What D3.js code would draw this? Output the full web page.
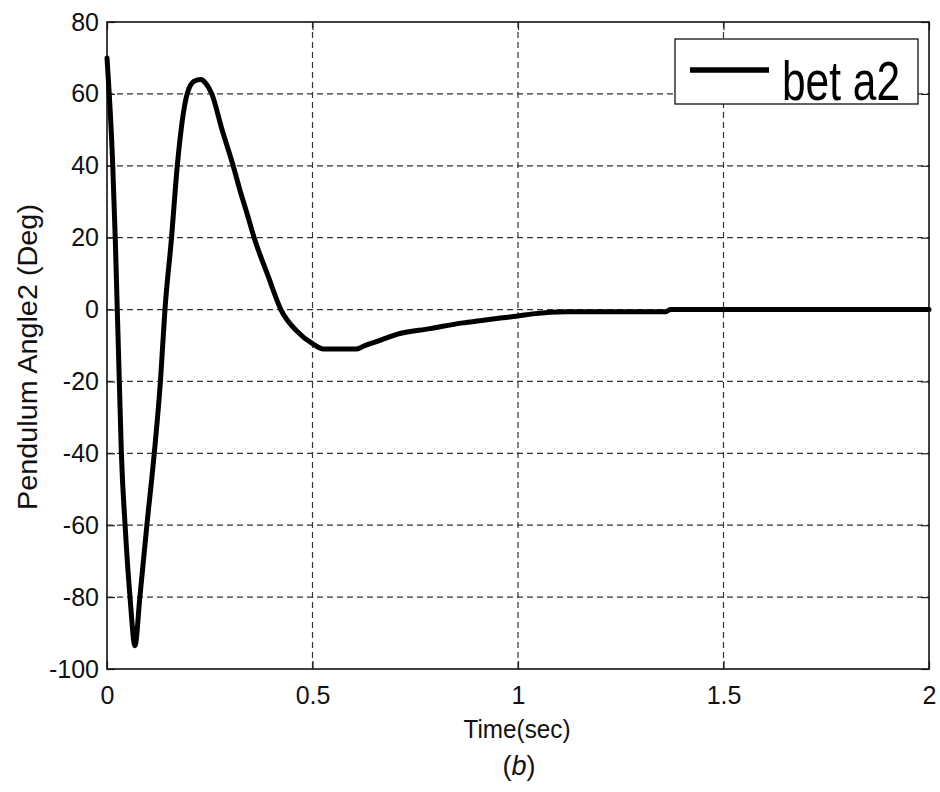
<!DOCTYPE html>
<html>
<head>
<meta charset="utf-8">
<script src="https://cdn.jsdelivr.net/npm/d3@7"></script>
<style>
  html, body { margin: 0; padding: 0; background: #fff; }
  svg { display: block; font-family: "Liberation Sans", Arial, sans-serif; }
</style>
</head>
<body>
<svg id="chart" width="940" height="792"></svg>
<script>
// Pendulum angle 2 response (deg) versus time (s)
const timeSec = [0, 0.014, 0.020, 0.025, 0.030, 0.035, 0.044, 0.056, 0.068,
  0.080, 0.097, 0.115, 0.130, 0.141, 0.157, 0.171, 0.195, 0.212, 0.228,
  0.240, 0.255, 0.280, 0.307, 0.324, 0.340, 0.358, 0.393, 0.423, 0.462,
  0.500, 0.527, 0.606, 0.624, 0.664, 0.705, 0.786, 0.866, 0.907, 0.948,
  1.000, 1.036, 1.120, 1.360, 1.370, 2.0];
const beta2 = [70, 40, 20, 0, -20, -40, -60, -80, -93.5,
  -80, -60, -40, -20, 0, 20, 40, 60, 63.5, 64,
  63, 60, 50, 40, 33, 27, 20, 9, 0, -6,
  -9.5, -11, -11, -10.2, -8.6, -6.9, -5.3, -3.7, -3.1, -2.5,
  -1.8, -1.2, -0.6, -0.6, 0, 0];
const xTicks = [0, 0.5, 1, 1.5, 2];
const xTickLabels = ["0", "0.5", "1", "1.5", "2"];
const yTicks = [-100, -80, -60, -40, -20, 0, 20, 40, 60, 80];
const seriesName = "bet a2";
const xTitle = "Time(sec)";
const yTitle = "Pendulum Angle2 (Deg)";
const caption = "b";

const svg = d3.select("#chart");
const plot = { left: 107, top: 22, right: 929, bottom: 669 };

const x = d3.scaleLinear().domain([0, 2]).range([plot.left, plot.right]);
const y = d3.scaleLinear().domain([-100, 80]).range([plot.bottom, plot.top]);

// dashed grid
const grid = svg.append("g").attr("stroke", "#333").attr("stroke-width", 1.2)
  .attr("stroke-dasharray", "6,4");
grid.selectAll("line.gx").data(xTicks.filter(d => d > 0 && d < 2)).join("line")
  .attr("x1", d => x(d)).attr("x2", d => x(d))
  .attr("y1", plot.top).attr("y2", plot.bottom);
grid.selectAll("line.gy").data(yTicks.filter(d => d > -100 && d < 80)).join("line")
  .attr("y1", d => y(d)).attr("y2", d => y(d))
  .attr("x1", plot.left).attr("x2", plot.right);

// axes with inward ticks on all four sides
const tickLen = 8;
svg.append("g").attr("transform", `translate(0,${plot.bottom})`)
  .call(d3.axisBottom(x).tickValues(xTicks).tickFormat((d, i) => xTickLabels[i])
    .tickSizeInner(-tickLen).tickSizeOuter(0).tickPadding(17))
  .call(g => g.select(".domain").remove());
svg.append("g").attr("transform", `translate(0,${plot.top})`)
  .call(d3.axisTop(x).tickValues(xTicks).tickFormat("").tickSizeInner(-tickLen).tickSizeOuter(0))
  .call(g => g.select(".domain").remove());
svg.append("g").attr("transform", `translate(${plot.left},0)`)
  .call(d3.axisLeft(y).tickValues(yTicks).tickFormat(d => String(d))
    .tickSizeInner(-tickLen).tickSizeOuter(0).tickPadding(8))
  .call(g => g.select(".domain").remove());
svg.append("g").attr("transform", `translate(${plot.right},0)`)
  .call(d3.axisRight(y).tickValues(yTicks).tickFormat("").tickSizeInner(-tickLen).tickSizeOuter(0))
  .call(g => g.select(".domain").remove());

svg.selectAll(".tick line").attr("stroke", "#222").attr("stroke-width", 1.2);
svg.selectAll(".tick text").attr("fill", "#111").attr("font-size", 25)
  .attr("font-family", "'Liberation Sans', Arial, sans-serif");

// plot frame
svg.append("rect")
  .attr("x", plot.left).attr("y", plot.top)
  .attr("width", plot.right - plot.left).attr("height", plot.bottom - plot.top)
  .attr("fill", "none").attr("stroke", "#111").attr("stroke-width", 1.6);

// response curve
const line = d3.line().x((d, i) => x(timeSec[i])).y(d => y(d)).curve(d3.curveMonotoneX);
svg.append("path").datum(beta2)
  .attr("d", line)
  .attr("fill", "none").attr("stroke", "#000").attr("stroke-width", 5)
  .attr("stroke-linejoin", "round").attr("stroke-linecap", "round");

// legend
const lg = svg.append("g");
lg.append("rect").attr("x", 675).attr("y", 39).attr("width", 243).attr("height", 65)
  .attr("fill", "#fff").attr("stroke", "#111").attr("stroke-width", 1.3);
lg.append("line").attr("x1", 690).attr("x2", 769).attr("y1", 70).attr("y2", 70)
  .attr("stroke", "#000").attr("stroke-width", 5.5);
lg.append("text").attr("x", 782).attr("y", 100)
  .attr("font-size", 56).attr("fill", "#000")
  .attr("textLength", 118).attr("lengthAdjust", "spacingAndGlyphs")
  .text(seriesName);

// axis titles
svg.append("text").attr("x", 517).attr("y", 738)
  .attr("text-anchor", "middle").attr("font-size", 26).attr("fill", "#111")
  .attr("textLength", 107).attr("lengthAdjust", "spacingAndGlyphs")
  .text(xTitle);
svg.append("text")
  .attr("transform", "translate(37,357) rotate(-90)")
  .attr("text-anchor", "middle").attr("font-size", 28).attr("fill", "#111")
  .attr("textLength", 306).attr("lengthAdjust", "spacingAndGlyphs")
  .text(yTitle);

// panel caption
const cap = svg.append("text").attr("x", 519).attr("y", 775)
  .attr("text-anchor", "middle").attr("font-size", 27).attr("fill", "#111");
cap.append("tspan").text("(");
cap.append("tspan").attr("font-style", "italic").text(caption);
cap.append("tspan").text(")");
</script>
</body>
</html>
